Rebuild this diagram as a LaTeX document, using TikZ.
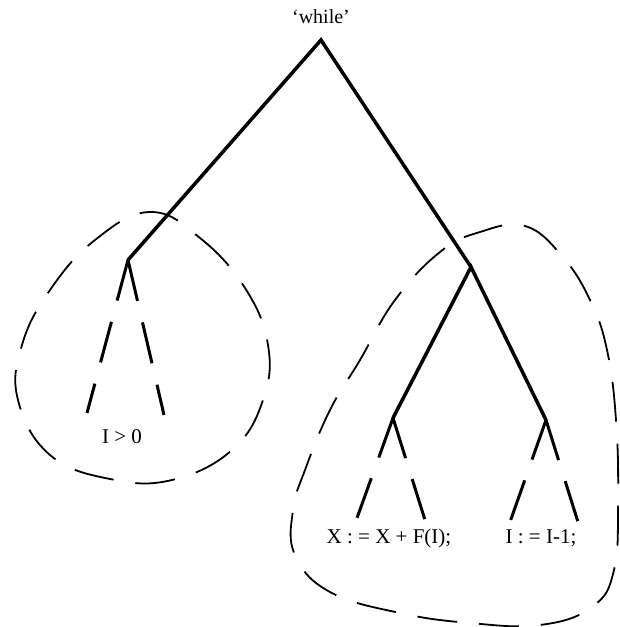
\documentclass[tikz,border=0pt]{standalone}
\usepackage{fontspec}
\setmainfont{Liberation Serif}
\begin{document}
\begin{tikzpicture}[x=1pt,y=-1pt,
    branch/.style={line width=3.5pt, line cap=round},
    leafbranch/.style={line width=3pt, dash pattern=on 42pt off 22pt},
    blob/.style={line width=1.8pt, dash pattern=on 40pt off 22pt},
    lbl/.style={font=\fontsize{21}{25}\selectfont, inner sep=0pt}]
    \useasboundingbox (0,0) rectangle (619,627);

    % inner nodes of the tree
    \coordinate (root) at (321,40);
    \coordinate (cond) at (128,260);
    \coordinate (body) at (471,267);
    \coordinate (asgx) at (393,418);
    \coordinate (asgi) at (546,420);

    % ends of the open leaf branches
    \coordinate (c1) at (87,413);
    \coordinate (c2) at (164,415);
    \coordinate (x1) at (357,518);
    \coordinate (x2) at (425,520);
    \coordinate (i1) at (510,522);
    \coordinate (i2) at (578,522);

    \node[lbl, font=\fontsize{20}{24}\selectfont] (wh) at (321,17) {`while'};
    \node[lbl] (gt) at (122,437) {I > 0};
    \node[lbl] (xl) at (389,538) {X : = X + F(I);};
    \node[lbl] (il) at (541,538) {I : = I-1;};

    \draw[branch] (cond) -- (root) -- (body);
    \draw[branch] (asgx) -- (body) -- (asgi);

    \draw[leafbranch] (cond) -- (c1);
    \draw[leafbranch] (cond) -- (c2);
    \draw[leafbranch] (asgx) -- (x1);
    \draw[leafbranch] (asgx) -- (x2);
    \draw[leafbranch] (asgi) -- (i1);
    \draw[leafbranch] (asgi) -- (i2);

    % subtree outlines
    \draw[blob] plot[smooth cycle, tension=0.7] coordinates {
        (150,212) (200,238) (245,288) (268,345) (263,400) (232,450)
        (172,480) (110,479) (50,455) (18,400) (22,345) (50,290) (95,240)};
    \draw[blob] plot[smooth cycle, tension=0.7] coordinates {
        (480,232) (525,226) (562,256) (590,300) (607,350) (616,420)
        (618,500) (614,570) (592,607) (540,625) (470,623) (400,613)
        (330,592) (295,555) (293,510) (305,470) (330,410) (360,360)
        (395,300) (440,252)};
\end{tikzpicture}
\end{document}
